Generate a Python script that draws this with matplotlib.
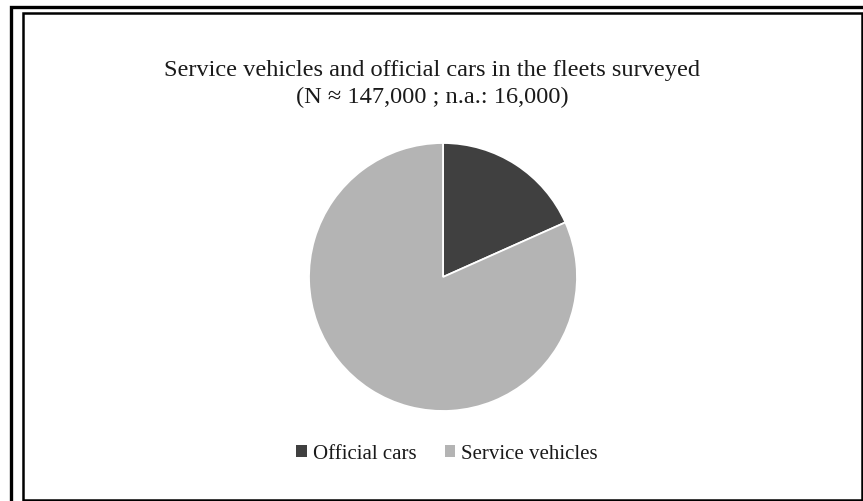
import matplotlib
matplotlib.use("Agg")
import matplotlib.pyplot as plt
from matplotlib.patches import Rectangle, Patch

categories = ["Official cars", "Service vehicles"]
values = [24000, 107000]
colors = ["#404040", "#b4b4b4"]
title = "Service vehicles and official cars in the fleets surveyed\n(N \u2248 147,000 ; n.a.: 16,000)"

W, H = 863, 502
fig = plt.figure(figsize=(W / 100, H / 100), dpi=100)
plt.rcParams['font.family'] = ['Liberation Serif', 'DejaVu Serif']

def fx(px):
    return px / W

def fy(py):
    return 1 - py / H

# double frame
fig.add_artist(Rectangle((fx(10.5), fy(520)), fx(880 - 10.5), fy(8) - fy(520),
                         fill=False, lw=2.4, ec="black", transform=fig.transFigure))
fig.add_artist(Rectangle((fx(22.5), fy(500.5)), fx(862 - 22.5), fy(13.5) - fy(500.5),
                         fill=False, lw=1.8, ec="black", transform=fig.transFigure))

# pie axes: center (443,278), radius 134
cx, cy, r = 443, 278, 134
ax = fig.add_axes([fx(cx - r), fy(cy + r), fx(2 * r), fy(cy - r) - fy(cy + r)])
wedges, _ = ax.pie(values, colors=colors, startangle=90, counterclock=False,
                   wedgeprops=dict(edgecolor="white", linewidth=1.3), radius=1.0)
ax.set_xlim(-1, 1)
ax.set_ylim(-1, 1)
ax.set_aspect("equal")
ax.axis("off")

fig.text(fx(432), fy(84), title, ha="center", va="center", fontsize=17.6,
         linespacing=1.35, color="#1a1a1a")

handles = [Patch(facecolor=c, edgecolor="none") for c in colors]
fig.legend(handles, categories, loc="center", bbox_to_anchor=(fx(447), fy(455)),
           ncol=2, frameon=False, fontsize=15, handlelength=0.5, handleheight=0.5,
           handletextpad=0.3, columnspacing=1.35, labelcolor="#1a1a1a")

fig.savefig("out.png", dpi=100)
